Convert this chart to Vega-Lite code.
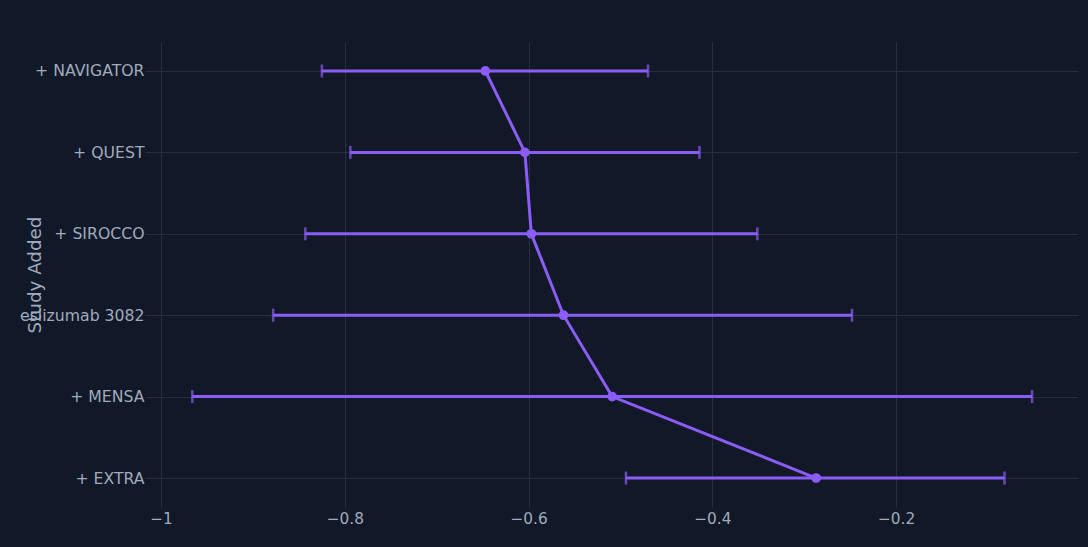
{
  "$schema": "https://vega.github.io/schema/vega-lite/v6.json",
  "width": 933,
  "height": 465,
  "autosize": {"type": "none"},
  "padding": {"left": 145, "top": 42, "right": 10, "bottom": 40},
  "background": "#111827",
  "config": {
    "view": {"stroke": null},
    "font": "DejaVu Sans",
    "axis": {
      "labelFont": "DejaVu Sans",
      "titleFont": "DejaVu Sans",
      "labelColor": "#a0abbd",
      "titleColor": "#a0abbd",
      "gridColor": "#243041",
      "gridWidth": 1,
      "domain": false,
      "ticks": false
    }
  },
  "data": {
    "values": [
      {"study": "+ NAVIGATOR", "idx": 6, "est": -0.647, "lo": -0.825, "hi": -0.470},
      {"study": "+ QUEST", "idx": 5, "est": -0.604, "lo": -0.794, "hi": -0.414},
      {"study": "+ SIROCCO", "idx": 4, "est": -0.597, "lo": -0.843, "hi": -0.351},
      {"study": "eslizumab 3082", "idx": 3, "est": -0.562, "lo": -0.878, "hi": -0.248},
      {"study": "+ MENSA", "idx": 2, "est": -0.509, "lo": -0.966, "hi": -0.052},
      {"study": "+ EXTRA", "idx": 1, "est": -0.287, "lo": -0.494, "hi": -0.082}
    ]
  },
  "encoding": {
    "y": {
      "field": "study",
      "type": "nominal",
      "sort": null,
      "scale": {
        "type": "point",
        "domain": ["+ NAVIGATOR", "+ QUEST", "+ SIROCCO", "eslizumab 3082", "+ MENSA", "+ EXTRA"],
        "padding": 0.356
      },
      "axis": {
        "title": "Study Added",
        "titleFontSize": 18.3,
        "titleFontWeight": "normal",
        "titleAngle": -90,
        "titleX": -110,
        "titleY": 232.5,
        "titleAlign": "center",
        "titleBaseline": "middle",
        "labelFontSize": 15.7,
        "labelPadding": 1,
        "labelLimit": 300,
        "grid": true
      }
    }
  },
  "layer": [
    {
      "mark": {"type": "rule", "color": "#8b5cf6", "strokeWidth": 3},
      "encoding": {
        "x": {
          "field": "lo",
          "type": "quantitative",
          "scale": {"domain": [-1.0175, -0.002], "nice": false, "zero": false},
          "axis": {
            "title": null,
            "values": [-1, -0.8, -0.6, -0.4, -0.2],
            "format": ".1~f",
            "labelFontSize": 15.3,
            "labelPadding": 4,
            "grid": true
          }
        },
        "x2": {"field": "hi"}
      }
    },
    {
      "mark": {"type": "tick", "color": "#8b5cf6", "thickness": 2.5, "size": 13, "orient": "vertical"},
      "encoding": {"x": {"field": "lo", "type": "quantitative"}}
    },
    {
      "mark": {"type": "tick", "color": "#8b5cf6", "thickness": 2.5, "size": 13, "orient": "vertical"},
      "encoding": {"x": {"field": "hi", "type": "quantitative"}}
    },
    {
      "mark": {"type": "line", "color": "#8b5cf6", "strokeWidth": 3},
      "encoding": {
        "x": {"field": "est", "type": "quantitative"},
        "order": {"field": "idx", "type": "quantitative"}
      }
    },
    {
      "mark": {"type": "circle", "color": "#8b5cf6", "opacity": 1, "size": 95},
      "encoding": {"x": {"field": "est", "type": "quantitative"}}
    }
  ]
}
